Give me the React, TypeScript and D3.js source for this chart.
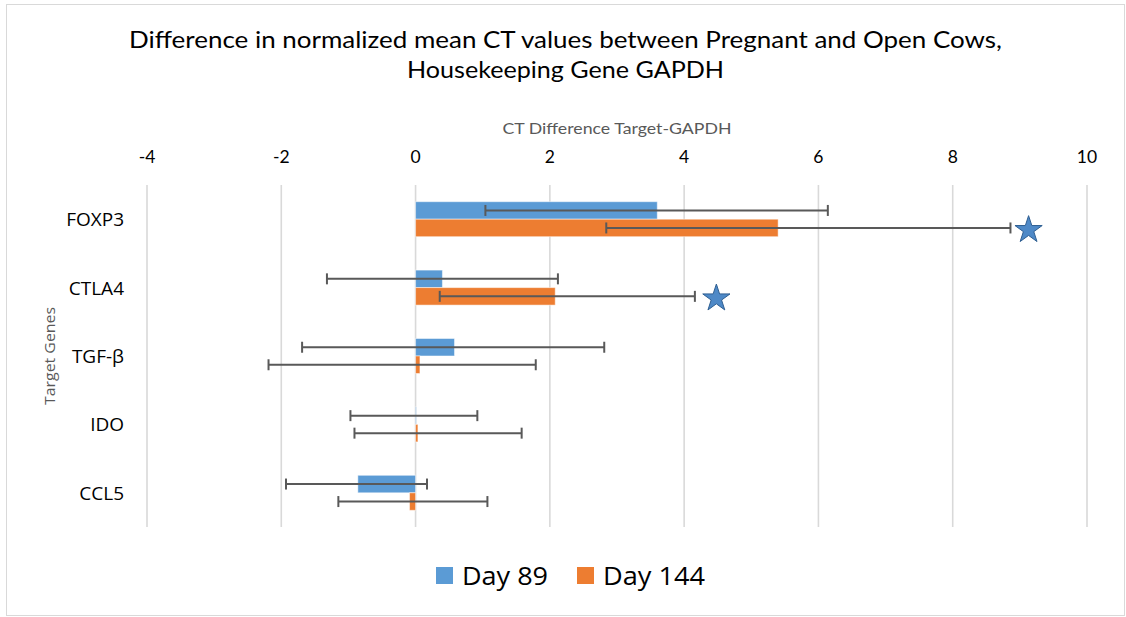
import React from "react";
import * as d3 from "d3";

const categories = ["FOXP3", "CTLA4", "TGF-β", "IDO", "CCL5"];
const seriesNames = ["Day 89", "Day 144"];
const day89 = [3.6, 0.4, 0.58, 0.01, -0.86];
const day144 = [5.4, 2.08, 0.065, 0.035, -0.09];
const day89Low = [1.04, -1.32, -1.69, -0.97, -1.93];
const day89High = [6.14, 2.12, 2.81, 0.92, 0.17];
const day144Low = [2.84, 0.36, -2.19, -0.91, -1.15];
const day144High = [8.86, 4.16, 1.79, 1.58, 1.07];
// significance markers: [category, series, x value]
const stars: [string, string, number][] = [
  ["FOXP3", "Day 144", 9.13],
  ["CTLA4", "Day 144", 4.48],
];
const xTicks = [-4, -2, 0, 2, 4, 6, 8, 10];
const colors = ["#5B9BD5", "#ED7D31"];

const W = 1126;
const H = 617;
const plot = { left: 147, right: 1087, top: 185, bottom: 527 };

export default function App() {
  const x = d3.scaleLinear().domain([-4, 10]).range([plot.left, plot.right]);
  const y = d3
    .scaleBand<string>()
    .domain(categories)
    .range([plot.top, plot.bottom])
    .paddingInner(0.488)
    .paddingOuter(0.244);
  const ys = d3.scaleBand<string>().domain(seriesNames).range([0, y.bandwidth()]);
  const vals = [day89, day144];
  const lows = [day89Low, day144Low];
  const highs = [day89High, day144High];
  const starPath = d3.symbol(d3.symbolStar).size(230)() as string;
  const capH = 5.5;
  const legendLen = [86, 102];

  return (
    <svg
      width={W}
      height={H}
      style={{ position: "absolute", left: 0, top: 0, background: "#fff" }}
    >
      <rect x={6.5} y={4.5} width={1118} height={611} fill="#fff" stroke="#d9d9d9" strokeWidth={1} />
      <text x={565.5} y={48} textAnchor="middle" fontFamily="Lato" fontSize={22.5} fill="#000"
        textLength={873} lengthAdjust="spacingAndGlyphs">
        Difference in normalized mean CT values between Pregnant and Open Cows,
      </text>
      <text x={565.5} y={78} textAnchor="middle" fontFamily="Lato" fontSize={22.5} fill="#000"
        textLength={317} lengthAdjust="spacingAndGlyphs">
        Housekeeping Gene GAPDH
      </text>
      <text x={617} y={134} textAnchor="middle" fontFamily="Lato" fontSize={15} fill="#595959"
        textLength={229} lengthAdjust="spacingAndGlyphs">
        CT Difference  Target-GAPDH
      </text>
      {xTicks.map((t) => (
        <g key={t}>
          <line x1={x(t)} x2={x(t)} y1={plot.top} y2={plot.bottom} stroke="#d9d9d9" strokeWidth={1.6} />
          <text x={x(t)} y={163} textAnchor="middle" fontFamily="Lato" fontSize={17.5} fill="#000">
            {t}
          </text>
        </g>
      ))}
      {categories.map((c) => (
        <text
          key={c}
          x={124}
          y={(y(c) as number) + y.bandwidth() / 2 + 7}
          textAnchor="end"
          fontFamily="Open Sans"
          fontSize={19}
          fill="#000"
        >
          {c}
        </text>
      ))}
      <text
        transform={`translate(55,${(plot.top + plot.bottom) / 2}) rotate(-90)`}
        textAnchor="middle"
        fontFamily="Open Sans"
        fontSize={14.5}
        fill="#595959"
        textLength={98}
        lengthAdjust="spacingAndGlyphs"
      >
        Target Genes
      </text>
      {seriesNames.map((s, si) =>
        categories.map((c, ci) => {
          const v = vals[si][ci];
          const by = (y(c) as number) + (ys(s) as number);
          return (
            <rect
              key={s + c}
              x={Math.min(x(0), x(v))}
              y={by}
              width={Math.abs(x(v) - x(0))}
              height={ys.bandwidth()}
              fill={colors[si]}
              stroke="#fff"
              strokeOpacity={0.5}
              strokeWidth={1}
            />
          );
        })
      )}
      {seriesNames.map((s, si) =>
        categories.map((c, ci) => {
          const cy = (y(c) as number) + (ys(s) as number) + ys.bandwidth() / 2;
          const x1 = x(lows[si][ci]);
          const x2 = x(highs[si][ci]);
          return (
            <g key={"e" + s + c} stroke="#595959" strokeWidth={2}>
              <line x1={x1} x2={x2} y1={cy} y2={cy} />
              <line x1={x1} x2={x1} y1={cy - capH} y2={cy + capH} />
              <line x1={x2} x2={x2} y1={cy - capH} y2={cy + capH} />
            </g>
          );
        })
      )}
      {stars.map(([c, s, v]) => {
        const cy = (y(c) as number) + (ys(s) as number) + ys.bandwidth() / 2 + 1;
        return (
          <path
            key={"s" + c}
            d={starPath}
            transform={`translate(${x(v)},${cy + 1})`}
            fill="#4e89c7"
            stroke="#2f5f92"
            strokeWidth={1}
          />
        );
      })}
      {seriesNames.map((s, si) => {
        const lx = si === 0 ? 436 : 577;
        return (
          <g key={"l" + s}>
            <rect x={lx} y={567} width={17} height={17} fill={colors[si]} />
            <text x={lx + 26} y={585} fontFamily="Open Sans" fontSize={25} fill="#000"
              textLength={legendLen[si]} lengthAdjust="spacingAndGlyphs">
              {s}
            </text>
          </g>
        );
      })}
    </svg>
  );
}
